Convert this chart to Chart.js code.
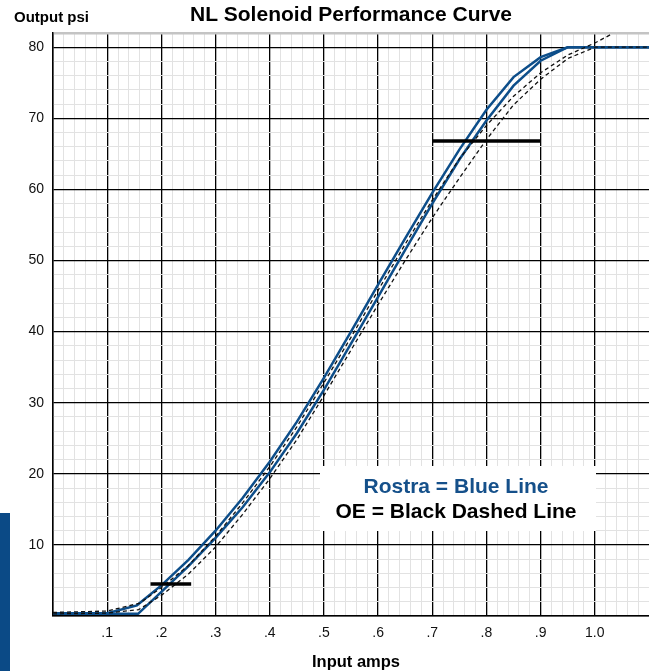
<!DOCTYPE html>
<html>
<head>
<meta charset="utf-8">
<script src="https://cdn.jsdelivr.net/npm/chart.js@4.4.0/dist/chart.umd.min.js"></script>
<style>
	html, body { margin: 0; padding: 0; background: #fff; }
	canvas { display: block; }
</style>
</head>
<body>
<canvas id="chart-solenoid" width="649" height="671"></canvas>
<script>
// Rostra curves (blue)
const ROSTRA_LEFT_AMPS = [0, 0.1, 0.155, 0.2, 0.25, 0.3, 0.35, 0.4, 0.45, 0.5, 0.55, 0.6, 0.65, 0.7, 0.75, 0.8, 0.85, 0.9, 0.95, 1.1];
const ROSTRA_LEFT_PSI = [0.4, 0.4, 1.5, 4.3, 7.9, 12.0, 16.6, 21.7, 27.3, 33.5, 40.0, 46.6, 53.1, 59.5, 65.6, 71.2, 75.8, 78.6, 80, 80];
const ROSTRA_RIGHT_AMPS = [0, 0.157, 0.2, 0.25, 0.3, 0.35, 0.4, 0.45, 0.5, 0.55, 0.6, 0.65, 0.7, 0.75, 0.8, 0.85, 0.9, 0.95, 1.1];
const ROSTRA_RIGHT_PSI = [0.3, 0.3, 3.4, 7.0, 11.0, 15.3, 20.2, 25.7, 31.8, 38.3, 44.9, 51.5, 58.0, 64.2, 69.7, 74.6, 78.1, 80, 80];

// OE curves (black dashed)
const OE_LEFT_AMPS = [0, 0.1, 0.16, 0.2, 0.25, 0.3, 0.35, 0.4, 0.45, 0.5, 0.55, 0.6, 0.65, 0.7, 0.75, 0.8, 0.85, 0.9, 0.95, 1.0, 1.03];
const OE_LEFT_PSI = [0.5, 0.7, 1.8, 4.0, 7.1, 11.2, 15.9, 21.0, 26.6, 32.8, 39.2, 45.8, 52.3, 58.5, 64.3, 69.0, 73.1, 76.4, 78.9, 80.6, 81.8];
const OE_RIGHT_AMPS = [0, 0.1, 0.158, 0.2, 0.25, 0.3, 0.35, 0.4, 0.45, 0.5, 0.55, 0.6, 0.65, 0.7, 0.75, 0.8, 0.85, 0.9, 0.95, 1.0, 1.1];
const OE_RIGHT_PSI = [0.3, 0.4, 0.9, 2.9, 5.9, 9.7, 14.3, 19.3, 24.8, 31.0, 37.4, 43.8, 50.0, 56.0, 61.6, 67.0, 71.9, 75.5, 78.4, 80, 80];

// Tolerance bars
const BAR_LOW_AMPS = [0.18, 0.255];
const BAR_LOW_PSI = [4.5, 4.5];
const BAR_HIGH_AMPS = [0.7, 0.9];
const BAR_HIGH_PSI = [66.8, 66.8];

// Axis ranges
const AMPS_RANGE = [0, 1.1];
const PSI_RANGE = [0, 82];

const BLUE = "#0d4e8a";
const FONT = "'Liberation Sans', Arial, Helvetica, sans-serif";

const toPoints = (xs, ys) => xs.map((x, i) => ({ x, y: ys[i] }));

const isMajor = (value, step) => Math.abs(value / step - Math.round(value / step)) < 1e-6;

//---------------------------------------------------------
// Text, legend box and side stripe
//---------------------------------------------------------
const decorPlugin = {
	id: "decor",
	afterDraw(chart) {
		const { ctx, chartArea } = chart;
		ctx.save();

		// side stripe
		ctx.fillStyle = "#0b4a86";
		ctx.fillRect(0, 513, 10, 158);

		// legend box
		ctx.fillStyle = "#fff";
		ctx.fillRect(320, 466, 276, 65);
		ctx.textAlign = "center";
		ctx.textBaseline = "middle";
		ctx.font = `bold 21px ${FONT}`;
		ctx.fillStyle = "#15508a";
		ctx.fillText("Rostra = Blue Line", 456, 487);
		ctx.fillStyle = "#000";
		ctx.fillText("OE = Black Dashed Line", 456, 512);

		// title
		ctx.font = `bold 21px ${FONT}`;
		ctx.fillText("NL Solenoid Performance Curve", (chartArea.left + chartArea.right) / 2, 15);

		// axis captions
		ctx.font = `bold 15px ${FONT}`;
		ctx.textAlign = "left";
		ctx.fillText("Output psi", 14, 18);
		ctx.textAlign = "center";
		ctx.font = `bold 16.5px ${FONT}`;
		ctx.fillText("Input amps", 356, 662);

		ctx.restore();
	},
};

const lineSet = (xs, ys, opts) => ({
	data: toPoints(xs, ys),
	pointRadius: 0,
	tension: 0,
	fill: false,
	...opts,
});

const CHART_DATA = {
	datasets: [
		lineSet(BAR_LOW_AMPS, BAR_LOW_PSI, { borderColor: "#000", borderWidth: 3.5, borderCapStyle: "butt" }),
		lineSet(BAR_HIGH_AMPS, BAR_HIGH_PSI, { borderColor: "#000", borderWidth: 3.5, borderCapStyle: "butt" }),
		lineSet(OE_LEFT_AMPS, OE_LEFT_PSI, { borderColor: "#111", borderWidth: 1.3, borderDash: [4, 3] }),
		lineSet(OE_RIGHT_AMPS, OE_RIGHT_PSI, { borderColor: "#111", borderWidth: 1.3, borderDash: [4, 3] }),
		lineSet(ROSTRA_LEFT_AMPS, ROSTRA_LEFT_PSI, { borderColor: BLUE, borderWidth: 2.5 }),
		lineSet(ROSTRA_RIGHT_AMPS, ROSTRA_RIGHT_PSI, { borderColor: BLUE, borderWidth: 2.5 }),
	],
};

const CHART_CONFIG = {
	type: "line",
	data: CHART_DATA,
	options: {
		responsive: false,
		animation: false,
		layout: { padding: { top: 33, right: 0, bottom: 0, left: 0 } },
		plugins: {
			legend: { display: false },
			tooltip: { enabled: false },
		},
		scales: {
			x: {
				type: "linear",
				min: AMPS_RANGE[0],
				max: AMPS_RANGE[1],
				afterFit: (scale) => {
					scale.height = 55;
					scale.paddingLeft = 0;
					scale.paddingRight = 0;
				},
				border: { display: true, color: "#000", width: 1.5 },
				grid: {
					drawTicks: false,
					color: (ctx) => {
						const v = ctx.tick.value;
						if (v >= AMPS_RANGE[1] - 1e-6) return "rgba(0,0,0,0)";
						return isMajor(v, 0.1) ? "#000" : "#e2e2e2";
					},
					lineWidth: (ctx) => (isMajor(ctx.tick.value, 0.1) ? 1.3 : 1),
				},
				ticks: {
					stepSize: 0.02,
					autoSkip: false,
					maxRotation: 0,
					padding: 9,
					color: "#111",
					font: { family: FONT, size: 14 },
					callback: (value) => {
						if (!isMajor(value, 0.1) || value < 0.05 || value > 1.05) return "";
						const n = Math.round(value * 10);
						return n === 10 ? "1.0" : "." + n;
					},
				},
			},
			y: {
				type: "linear",
				min: PSI_RANGE[0],
				max: PSI_RANGE[1],
				afterFit: (scale) => {
					scale.width = 53;
					scale.paddingTop = 0;
					scale.paddingBottom = 0;
				},
				border: { display: true, color: "#000", width: 1.5 },
				grid: {
					drawTicks: false,
					color: (ctx) => {
						const v = ctx.tick.value;
						if (v >= PSI_RANGE[1]) return "#c4c4c4";
						return isMajor(v, 10) ? "#000" : "#e2e2e2";
					},
					lineWidth: (ctx) => {
						const v = ctx.tick.value;
						if (v >= PSI_RANGE[1]) return 2.5;
						return isMajor(v, 10) ? 1.3 : 1;
					},
				},
				ticks: {
					stepSize: 2,
					autoSkip: false,
					padding: 9,
					color: "#111",
					font: { family: FONT, size: 14 },
					callback: (value) => (isMajor(value, 10) && value > 0 ? String(value) : ""),
				},
			},
		},
	},
	plugins: [decorPlugin],
};

new Chart(document.getElementById("chart-solenoid"), CHART_CONFIG);
</script>
</body>
</html>
